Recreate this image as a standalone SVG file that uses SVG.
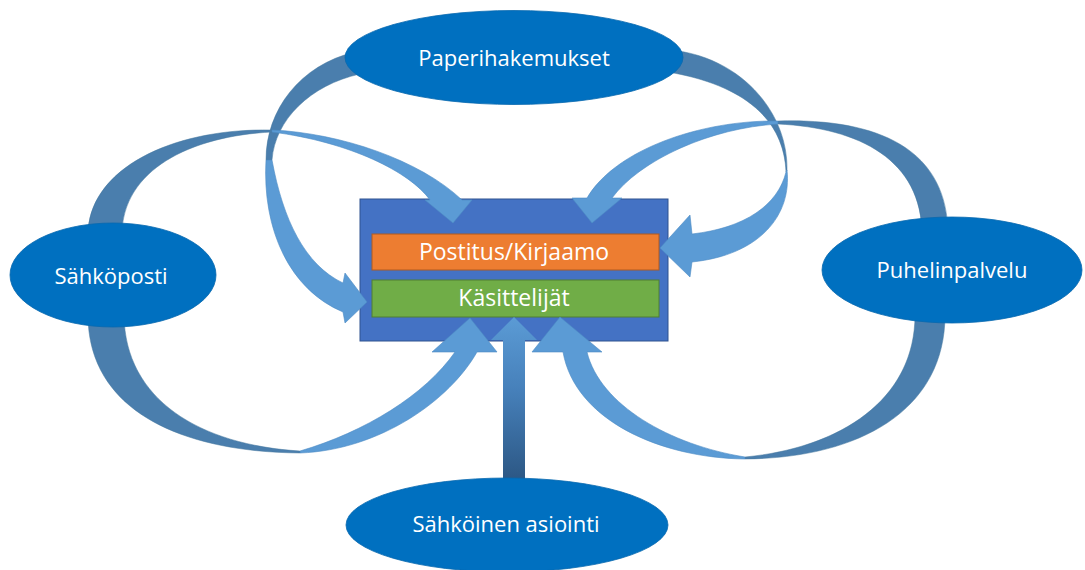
<svg xmlns="http://www.w3.org/2000/svg" width="1085" height="570" viewBox="0 0 1085 570">
<defs>
<style>
.bg{fill:#ffffff}
.dark{fill:#4A7EAD;stroke:#46789F;stroke-width:0.5}
.light{fill:#5B9BD5;stroke:#4E8CC4;stroke-width:0.6}
.ell{fill:#0070C0;stroke:#0868AE;stroke-width:0.8}
.lbl{font-family:"Open Sans","Liberation Sans",sans-serif;font-size:22px;fill:#ffffff;text-anchor:middle}
.lbl2{font-family:"Open Sans","Liberation Sans",sans-serif;font-size:23px;fill:#ffffff;text-anchor:middle}
</style>
<linearGradient id="gUp" gradientUnits="userSpaceOnUse" x1="0" y1="480" x2="0" y2="317">
<stop offset="0" stop-color="#2C5784"/>
<stop offset="0.55" stop-color="#4680BA"/>
<stop offset="1" stop-color="#5B9BD5"/>
</linearGradient>
</defs>
<rect class="bg" x="0" y="0" width="1085" height="570"/>

<g id="center">
<rect x="360" y="199" width="308" height="142" fill="#4472C4" stroke="#2F528F" stroke-width="1"/>
<g id="postitus">
<rect x="372" y="234" width="287" height="36" fill="#ED7D31" stroke="#AE5A21" stroke-width="1"/>
<text class="lbl2" x="514" y="260">Postitus/Kirjaamo</text>
</g>
<g id="kasittelijat">
<rect x="372" y="280" width="287" height="37" fill="#70AD47" stroke="#507E32" stroke-width="1"/>
<text class="lbl2" x="514" y="306">Käsittelijät</text>
</g>
</g>

<g id="connectors">
<!-- Paperihakemukset -> Käsittelijät (left) -->
<path class="dark" d="M355,52 C300,65 266,110 266,160 L272,160 C275,120 310,85 360,74 Z"/>
<path class="light" d="M266,160 C262,230 290,290 343,312 L345,323 L367,302 L345,273 L343,283 C305,265 283,220 272,160 Z"/>
<!-- Paperihakemukset -> Postitus (right) -->
<path class="dark" d="M670,50 C738,56 788,110 787,170 L786,172 C784,120 745,85 668,72 Z"/>
<path class="light" d="M787,170 C792,215 760,255 692,262 L690,277 L660,248 L690,215 L692,234 C745,228 778,205 786,172 Z"/>
<!-- Sähköposti -> top of centre -->
<path class="dark" d="M88,235 C88,170 170,128 272,130 L272,132 C190,136 122,170 122,235 Z"/>
<path class="light" d="M272,130 C340,133 420,160 462,200 L472,200 L453,223 L425,200 L430,200 C410,172 350,142 272,132 Z"/>
<!-- Puhelinpalvelu -> top of centre -->
<path class="dark" d="M948,235 C948,150 880,118 778,121 L778,124 C860,128 922,160 922,235 Z"/>
<path class="light" d="M778,121 C700,120 615,150 587,198 L572,198 L592,223 L622,198 L612,198 C640,160 710,128 778,124 Z"/>
<!-- Sähköposti -> Käsittelijät (bottom) -->
<path class="dark" d="M88,315 C88,410 180,452 300,453 L300,451 C200,445 125,400 124,315 Z"/>
<path class="light" d="M300,453 C380,450 450,400 477,352 L497,352 L470,318 L432,352 L455,352 C425,395 365,432 300,451 Z"/>
<!-- Puhelinpalvelu -> Käsittelijät (bottom) -->
<path class="dark" d="M945,315 C945,410 860,458 745,459 L745,457 C840,448 915,400 915,315 Z"/>
<path class="light" d="M745,459 C660,458 575,420 563,352 L532,352 L560,317 L602,352 L587,352 C600,405 670,445 745,457 Z"/>
<!-- Sähköinen asiointi -> Käsittelijät -->
<path d="M503,482 L503,340 L491,340 L514,317 L537,340 L525,340 L525,482 Z" fill="url(#gUp)"/>
</g>

<g id="paperihakemukset">
<ellipse class="ell" cx="514" cy="57.5" rx="169" ry="47"/>
<text class="lbl" x="514" y="66">Paperihakemukset</text>
</g>
<g id="sahkoposti">
<ellipse class="ell" cx="113" cy="275" rx="103" ry="52"/>
<text class="lbl" x="111" y="284">Sähköposti</text>
</g>
<g id="puhelinpalvelu">
<ellipse class="ell" cx="952" cy="270" rx="130" ry="53"/>
<text class="lbl" x="952" y="278">Puhelinpalvelu</text>
</g>
<g id="sahkoinen">
<ellipse class="ell" cx="507" cy="525" rx="161" ry="47"/>
<text class="lbl" x="506" y="532">Sähköinen asiointi</text>
</g>
</svg>
